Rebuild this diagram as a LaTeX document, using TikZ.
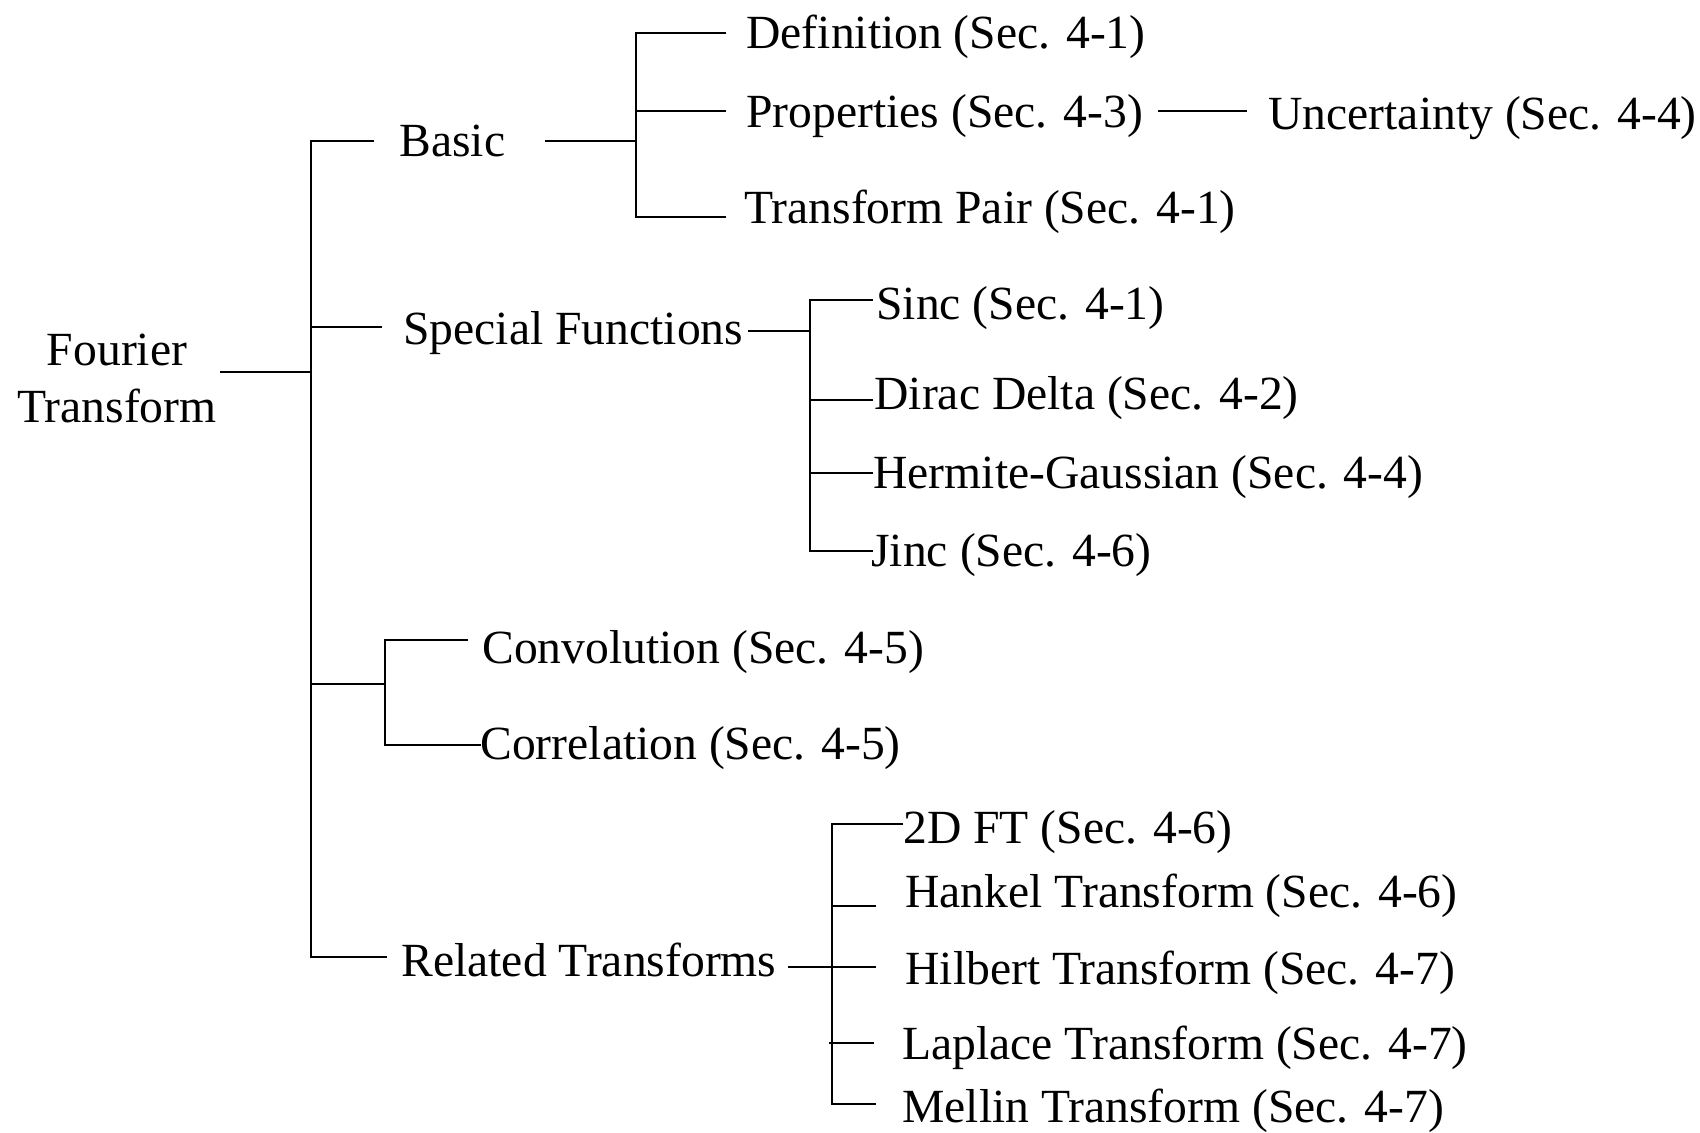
\documentclass[tikz,border=0pt]{standalone}
\usepackage{fontspec}
\setmainfont{Liberation Serif}
\begin{document}
\begin{tikzpicture}[x=0.5pt,y=-0.5pt,
  lbl/.style={anchor=base west, inner sep=0pt, font=\fontsize{23.8}{28.5}\selectfont},
  conn/.style={line width=1.4pt, line join=miter}]
\useasboundingbox (0,0) rectangle (1700,1133);
% ---------- text nodes ----------
\node[inner sep=0pt, align=center, font=\fontsize{23.8}{28.5}\selectfont] (ft) at (117,378) {Fourier\\Transform};
\node[lbl] (basic) at (399,157) {Basic};
\node[lbl] (def) at (746,49) {Definition (Sec. 4-1)};
\node[lbl] (prop) at (746,128) {Properties (Sec. 4-3)};
\node[lbl] (unc) at (1268,130) {Uncertainty (Sec. 4-4)};
\node[lbl] (tp) at (744,224) {Transform Pair (Sec. 4-1)};
\node[lbl] (sf) at (403,345) {Special Functions};
\node[lbl] (sinc) at (876,320) {Sinc (Sec. 4-1)};
\node[lbl] (dirac) at (874,410) {Dirac Delta (Sec. 4-2)};
\node[lbl] (herm) at (873,488) {Hermite-Gaussian (Sec. 4-4)};
\node[lbl] (jinc) at (871,566) {Jinc (Sec. 4-6)};
\node[lbl] (conv) at (482,663) {Convolution (Sec. 4-5)};
\node[lbl] (corr) at (480,759) {Correlation (Sec. 4-5)};
\node[lbl] (rt) at (401,976) {Related Transforms};
\node[lbl] (tdft) at (903,843) {2D FT (Sec. 4-6)};
\node[lbl] (hank) at (905,907) {Hankel Transform (Sec. 4-6)};
\node[lbl] (hilb) at (905,984) {Hilbert Transform (Sec. 4-7)};
\node[lbl] (lapl) at (902,1059) {Laplace Transform (Sec. 4-7)};
\node[lbl] (mell) at (902,1122) {Mellin Transform (Sec. 4-7)};
% ---------- junction coordinates ----------
\coordinate (ftR) at (220,372);
\coordinate (j0) at (311,372);
\coordinate (j0top) at (311,141);
\coordinate (j0bot) at (311,957);
\coordinate (basicL) at (374,141);
\coordinate (basicR) at (545,141);
\coordinate (jB) at (636,141);
\coordinate (defL) at (726,33);
\coordinate (propL) at (726,111);
\coordinate (tpL) at (726,217);
\coordinate (propR) at (1158,111);
\coordinate (uncL) at (1247,111);
\coordinate (sfL) at (382,327);
\coordinate (sfR) at (748,331);
\coordinate (jS) at (810,331);
\coordinate (sincL) at (873,300);
\coordinate (diracL) at (873,400);
\coordinate (hermL) at (873,473);
\coordinate (jincL) at (873,551);
\coordinate (jC) at (385,684);
\coordinate (convL) at (468,640);
\coordinate (corrL) at (481,745);
\coordinate (rtL) at (387,957);
\coordinate (rtR) at (788,967);
\coordinate (jR) at (832,967);
\coordinate (tdftL) at (903,824);
\coordinate (hankL) at (876,906);
\coordinate (hilbL) at (876,967);
\coordinate (laplL) at (874,1043);
\coordinate (laplJ) at (829,1043);
\coordinate (mellL) at (876,1104);
% ---------- connectors ----------
\draw[conn] (ftR) -- (j0);
\draw[conn] (basicL) -- (j0top) -- (j0bot) -- (rtL);
\draw[conn] (j0top |- sfL) -- (sfL);
\draw[conn] (j0top |- jC) -- (jC);
% Basic
\draw[conn] (basicR) -- (jB);
\draw[conn] (defL) -| (jB) |- (tpL);
\draw[conn] (jB |- propL) -- (propL);
\draw[conn] (propR) -- (uncL);
% Special functions
\draw[conn] (sfR) -- (jS);
\draw[conn] (sincL) -| (jS) |- (jincL);
\draw[conn] (jS |- diracL) -- (diracL);
\draw[conn] (jS |- hermL) -- (hermL);
% Convolution / correlation
\draw[conn] (convL) -| (jC) |- (corrL);
% Related transforms
\draw[conn] (rtR) -- (hilbL);
\draw[conn] (tdftL) -| (jR) |- (mellL);
\draw[conn] (jR |- hankL) -- (hankL);
\draw[conn] (laplJ) -- (laplL);
\end{tikzpicture}
\end{document}
